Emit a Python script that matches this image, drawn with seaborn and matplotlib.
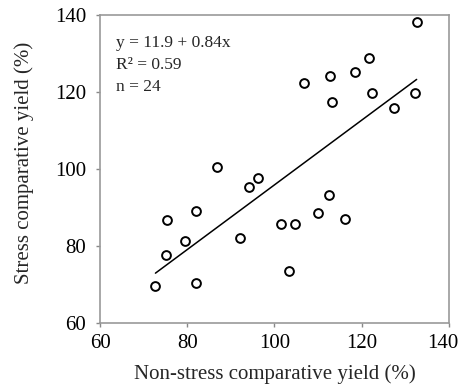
import numpy as np
import pandas as pd
import matplotlib
matplotlib.use("Agg")
import matplotlib.pyplot as plt
import matplotlib.transforms as mtransforms
import seaborn as sns

# values (%)
non_stress = [72.7, 75.2, 75.4, 79.5, 81.9, 82.0, 86.8, 92.0, 94.2, 96.2,
              101.5, 103.3, 104.8, 106.8, 110.0, 112.6, 112.7, 113.3, 116.1,
              118.4, 121.6, 122.3, 127.4, 132.3, 132.6]
stress = [69.7, 77.7, 86.8, 81.3, 89.2, 70.4, 100.6, 82.0, 95.4, 97.8,
          85.8, 73.4, 85.8, 122.3, 88.6, 93.2, 124.2, 117.4, 87.0,
          125.2, 128.9, 119.7, 115.8, 119.7, 138.2]
ticks = [60, 80, 100, 120, 140]

# reported regression
intercept, slope = 11.9, 0.84
r2, n = 0.59, 24

sns.set_style("ticks")
plt.rcParams['font.family'] = ['Liberation Serif', 'DejaVu Serif']

df = pd.DataFrame({"x": non_stress, "y": stress})

fig = plt.figure(figsize=(4.59, 3.86), dpi=100)
ax = fig.add_axes([0.218, 0.163, 0.760, 0.798])

sns.scatterplot(data=df, x="x", y="y", ax=ax, marker="o", s=40,
                facecolor="white", edgecolor="black", linewidth=1.4, zorder=3)

xl = np.array([min(non_stress), max(non_stress)])
sns.lineplot(x=xl, y=intercept + slope * xl, ax=ax, color="black", linewidth=1.1)

ax.set_xlim(60, 140)
ax.set_ylim(60, 140)
ax.set_xticks(ticks)
ax.set_yticks(ticks)
ax.tick_params(labelsize=15, colors="#888888", length=3, width=1, labelcolor="black")
ax.tick_params(axis="y", pad=7)
ax.tick_params(axis="x", pad=5)
for s in ax.spines.values():
    s.set_visible(True)
    s.set_color("#999999")
    s.set_linewidth(1.2)

# keep the last x tick label inside the figure
last = ax.get_xticklabels()[-1]
last.set_transform(last.get_transform() + mtransforms.ScaledTranslation(-6 / 100, 0, fig.dpi_scale_trans))

ax.set_xlabel("Non-stress comparative yield (%)", fontsize=15)
ax.set_ylabel("Stress comparative yield (%)", fontsize=15)
ax.xaxis.set_label_coords(0.5, -0.135)
ax.yaxis.set_label_coords(-0.19, 0.52)

ax.text(0.045, 0.895, f"y = {intercept} + {slope}x", transform=ax.transAxes, fontsize=12.5)
ax.text(0.045, 0.825, f"R² = {r2}", transform=ax.transAxes, fontsize=12.5)
ax.text(0.045, 0.755, f"n = {n}", transform=ax.transAxes, fontsize=12.5)

plt.savefig("out.png", dpi=100)
